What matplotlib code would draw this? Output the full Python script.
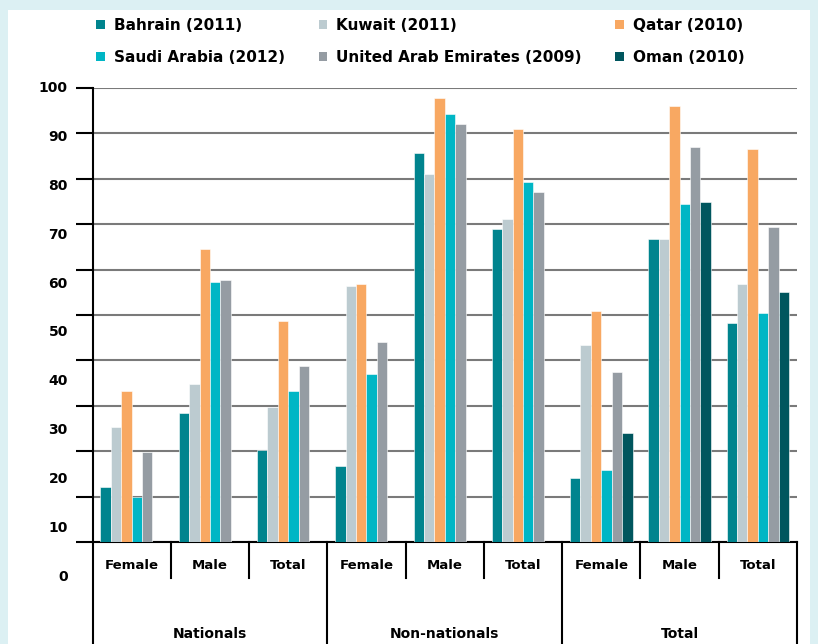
import numpy as np
import matplotlib
matplotlib.use('Agg')
import matplotlib.pyplot as plt
from matplotlib.patches import Rectangle, Patch

plt.rcParams['font.family'] = 'DejaVu Sans'
plt.rcParams['font.weight'] = 'bold'

groups = ['Nationals', 'Non-nationals', 'Total']
subgroups = ['Female', 'Male', 'Total']
countries = ['Bahrain (2011)', 'Kuwait (2011)', 'Qatar (2010)',
             'Saudi Arabia (2012)', 'United Arab Emirates (2009)', 'Oman (2010)']
colors = ['#00848e', '#bccbd0', '#f8a862', '#00b6c5', '#959ca3', '#00565e']

# values per country, in order Nat F/M/T, Non-nat F/M/T, Total F/M/T (None = no bar)
bahrain = [12.2, 28.5, 20.3, 16.7, 85.6, 68.9, 14.0, 66.7, 48.2]
kuwait  = [25.3, 34.8, 29.7, 56.3, 81.1, 71.2, 43.3, 66.7, 56.8]
qatar   = [33.3, 64.5, 48.7, 56.8, 97.7, 91.0, 50.9, 96.0, 86.5]
saudi   = [10.0, 57.3, 33.3, 36.9, 94.2, 79.3, 15.9, 74.4, 50.4]
uae     = [19.8, 57.7, 38.8, 44.1, 92.0, 77.0, 37.4, 86.9, 69.4]
oman    = [None, None, None, None, None, None, 23.9, 74.8, 55.0]
series = [bahrain, kuwait, qatar, saudi, uae, oman]

ytick_vals = list(range(0, 101, 10))

fig = plt.figure(figsize=(8.18, 6.44), dpi=100)
fig.patch.set_facecolor('#dcf0f3')
fig.patches.append(Rectangle((8/818, 0), 802/818, 634/644, transform=fig.transFigure,
                             facecolor='white', edgecolor='none', zorder=-10))

ax = fig.add_axes([0.1131, 0.1584, 0.8612, 0.7050])
ax.set_facecolor('none')

n = len(series)
w = 0.133
centers = np.arange(9) + 0.5
for k, (vals, col) in enumerate(zip(series, colors)):
    xs = [c + (k - (n - 1) / 2) * w for c, v in zip(centers, vals) if v is not None]
    ys = [v for v in vals if v is not None]
    ax.bar(xs, ys, width=w, color=col, edgecolor='white', linewidth=0.4, zorder=3)

ax.set_xlim(0, 9)
ax.set_ylim(0, 100)
ax.set_yticks(ytick_vals)
ax.set_yticklabels([])
ax.tick_params(axis='y', length=12, width=1.5, color='black', direction='out')
ax.set_xticks([])
ax.yaxis.grid(True, color='#7a7a7a', linewidth=1.5, zorder=1)
ax.set_axisbelow(True)
for s in ['top', 'right']:
    ax.spines[s].set_visible(False)
ax.spines['left'].set_linewidth(1.5)
ax.spines['bottom'].set_linewidth(1.5)

# y labels as drawn in the original (spread a bit wider than the grid)
ytr = ax.get_yaxis_transform()
for v in ytick_vals:
    ax.text(-0.035, v * 1.077 - 7.7, str(v), transform=ytr, ha='right', va='center',
            fontsize=10, fontweight='bold', clip_on=False)

# hierarchical x axis
xtr = ax.get_xaxis_transform()
for i in range(10):
    bottom = -0.2247 if i % 3 == 0 else -0.079
    ax.plot([i, i], [0, bottom], transform=xtr, color='black', lw=1.5, clip_on=False)
for i in range(9):
    ax.text(i + 0.5, -0.0507, subgroups[i % 3], transform=xtr, ha='center', va='center',
            fontsize=9.5, fontweight='bold')
for j, g in enumerate(groups):
    ax.text(3 * j + 1.5, -0.2026, g, transform=xtr, ha='center', va='center',
            fontsize=10, fontweight='bold')

handles = [Patch(facecolor=c, edgecolor='none') for c in colors]
order = [0, 3, 1, 4, 2, 5]
fig.legend([handles[i] for i in order], [countries[i] for i in order],
           ncol=3, loc='upper left', bbox_to_anchor=(0.101, 0.993), frameon=False,
           handlelength=0.55, handleheight=0.55, handletextpad=0.6,
           columnspacing=2.2, labelspacing=1.1, prop={'weight': 'bold', 'size': 11})

fig.savefig('out.png', dpi=100)
